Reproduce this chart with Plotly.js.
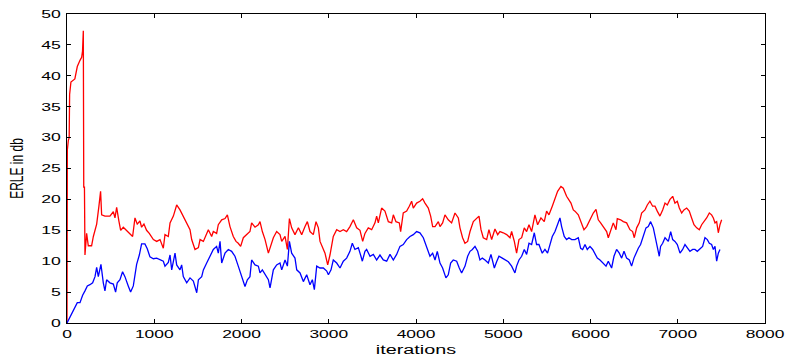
<!DOCTYPE html>
<html>
<head>
<meta charset="utf-8">
<script src="https://cdn.plot.ly/plotly-3.0.1.min.js"></script>
<style>html,body{margin:0;padding:0;background:#fff;}#chart{width:785px;height:358px;}</style>
</head>
<body>
<div id="chart"></div>
<script>
var redX = [0,4,15,25,30,45,90,118,149,168,178,187,192,200,206,225,244,282,302,340,366,385,397,435,492,531,550,569,595,615,645,683,721,752,779,805,836,855,882,912,943,
990,1028,1066,1104,1123,1161,1181,1219,1257,1295,1333,1372,1410,1429,1467,1506,1525,1563,1601,1620,1658,1677,1715,1734,1773,1811,1838,1868,1906,1937,1963,1990,2021,2059,2097,2116,2155,
2193,2212,2239,2270,2308,2327,2365,2403,2441,2461,2499,2526,2549,2575,2613,2652,2690,2728,2755,2785,2823,2854,2881,2900,2938,2957,2988,3014,3052,3091,3129,3167,3205,3243,3282,3320,3358,
3389,3415,3453,3492,3530,3549,3568,3606,3644,3683,3721,3740,3770,3809,3824,3854,3893,3923,3950,3969,4007,4045,4076,4103,4141,4168,4191,4218,4256,4275,4305,4332,4370,4408,4447,4485,4504,4534,4561,
4592,4619,4657,4695,4722,4745,4771,4810,4836,4867,4905,4936,4962,5000,5039,5077,5096,5127,5153,5180,5211,5241,5268,5295,5325,5363,5394,5432,5470,5497,5524,5562,5593,5623,5661,5688,5726,5776,5803,
5822,5860,5898,5925,5956,5994,6032,6063,6089,6116,6147,6185,6204,6242,6261,6292,6307,6345,6376,6414,6452,6483,6502,6529,6559,6586,6624,6651,6681,6712,6739,6765,6796,
6827,6854,6880,6911,6942,6968,6995,7018,7045,7071,7102,7132,7159,7186,7217,7247,7274,7301,7331,7362,7388,7408,7427,7446,7465,7484,7503];
var redY = [0,28,29.5,30,37,39,39.5,41.5,42.5,43,44,47.3,22,22,11,14.5,12.5,12.5,14,16,18.9,21.3,17.5,17.3,17.3,18,17,18.7,16.5,15,15.5,15,14.5,14,17,16,16.5,15.5,16,15,14.5,
13.5,13.2,13.5,12.1,14.3,14.0,16.2,17.3,19.1,18.3,17.3,16.2,15.1,13.5,11.9,12.2,13.5,13.2,14.3,15.1,14.0,14.8,14.5,15.9,16.7,16.9,17.5,15.6,14.0,13.2,12.9,12.4,13.8,14.3,14.8,16.2,15.5,
15.9,16.4,14.8,13.5,11.3,12.1,13.8,14.8,14.3,13.2,14.0,11.9,16.9,15.4,14.3,15.4,14.3,15.6,16.4,14.8,14.3,16.4,15.4,13.2,12.1,11.3,9.4,11.0,14.0,15.1,14.8,15.1,14.8,15.6,16.7,15.4,15.0,
13.2,14.5,15.4,15.1,16.2,17.3,16.2,18.6,18.1,16.4,16.2,17.5,16.4,16.2,14.8,17.8,18.1,18.9,19.7,18.6,19.4,19.7,20.1,19.4,18.6,17.3,15.6,15.6,16.4,15.6,16.2,17.5,16.7,16.2,17.8,17.0,15.4,13.8,12.9,
13.2,14.8,16.4,17.0,17.3,15.1,13.8,13.5,15.1,13.5,15.2,14.3,14.8,14.6,14.3,13.8,14.8,13.2,11.3,13.5,13.8,15.4,14.8,15.9,14.8,17.5,15.9,17.0,16.4,18.1,17.5,18.9,20.2,21.3,22.1,21.8,20.5,19.4,18.3,
18.1,17.5,16.2,15.1,15.6,16.7,17.8,18.4,16.7,16.2,15.6,14.8,13.8,15.4,16.2,15.1,16.9,16.7,16.4,16.2,15.1,14.8,13.8,15.4,16.2,17.8,18.3,19.1,19.7,18.9,18.9,18.1,17.3,
18.3,19.4,19.1,20.0,20.5,19.4,19.7,18.6,17.8,18.3,18.6,18.1,17.0,15.9,15.4,15.1,15.9,16.4,17.0,17.8,17.5,17.0,16.2,16.4,14.6,15.9,16.7];

var blueX = [0,34,65,92,118,149,179,206,233,263,294,321,340,359,378,389,416,435,454,492,531,557,576,607,637,664,702,729,760,779,798,829,855,893,920,
951,990,1028,1066,1104,1123,1161,1181,1200,1238,1257,1295,1314,1333,1372,1410,1448,1487,1506,1544,1563,1601,1639,1677,1715,1734,1754,1773,1811,1849,1887,1925,1963,2002,2040,2067,2097,2116,
2155,2193,2212,2239,2270,2308,2327,2346,2365,2403,2441,2461,2499,2526,2549,2575,2613,2633,2671,2709,2747,2785,2812,2835,2862,2900,2938,2977,2996,3026,3052,3091,3129,3167,3205,3243,3270,3300,3339,3369,3385,
3415,3434,3473,3511,3549,3587,3625,3664,3702,3740,3778,3816,3854,3893,3931,3969,4007,4045,4084,4122,4160,4191,4218,4244,4275,4305,4343,4370,4397,4427,4466,4496,4523,
4562,4592,4619,4646,4676,4707,4733,4760,4791,4829,4859,4898,4924,4951,4989,5020,5058,5096,5134,5153,5180,5211,5241,5268,5295,5325,5356,5382,5409,5447,5478,5508,5535,5562,5593,5623,5650,5669,5699,5726,5753,5784,
5822,5860,5887,5910,5937,5963,5994,6025,6051,6078,6109,6147,6178,6204,6242,6269,6299,6330,6357,6384,6414,6445,6471,6498,6521,6548,6574,6605,6636,6662,6689,6720,6739,6765,6788,6803,
6827,6854,6892,6919,6942,6968,6995,7026,7056,7083,7110,7140,7171,7197,7224,7255,7285,7312,7339,7362,7388,7408,7427,7446,7465,7484,7503];
var blueY = [0,1,1.8,2.5,3.3,3.3,4.5,5.2,6,6.2,6.5,7.5,9,7.5,8.5,9.5,6.5,5.2,7,6.5,6.3,5,6.5,7,8.3,7.5,6,5,6,8,9.5,11,12.8,12.8,12,
10.7,10.4,10.5,10.2,10.0,9.2,9.8,11.0,8.6,11.3,9.4,8.6,9.4,7.5,6.5,7.3,6.8,4.9,7.0,7.5,8.6,9.7,10.8,11.9,12.4,11.3,13.2,9.7,11.3,11.9,11.6,10.8,9.2,7.5,5.9,7.0,7.5,10.2,
9.4,9.2,8.1,8.6,7.8,7.0,5.7,7.3,8.6,9.4,9.7,8.6,10.2,9.2,13.2,11.3,10.5,8.6,8.1,6.7,7.8,6.2,7.0,5.4,9.2,8.9,8.9,8.4,7.8,8.6,10.2,9.7,8.9,10.0,10.5,11.6,12.9,11.9,12.2,10.8,
10.0,11.6,11.9,10.8,11.1,10.2,11.0,10.2,10.0,11.1,10.2,11.1,12.4,12.7,13.5,14.0,14.3,14.8,14.6,13.8,12.4,10.8,11.3,10.2,11.6,9.7,8.9,7.3,7.8,9.7,10.2,10.0,8.9,
8.1,9.2,10.8,11.6,11.9,12.4,11.6,10.2,10.5,10.2,9.7,11.1,8.9,9.9,10.8,10.5,10.2,9.9,9.2,8.1,9.2,10.2,10.8,11.9,11.1,12.9,12.7,14.6,12.7,12.7,11.3,11.9,11.3,12.9,14.0,14.8,15.9,17.0,15.6,14.0,13.5,13.8,
13.5,13.5,13.8,12.1,11.9,12.7,11.9,12.4,11.9,11.1,10.5,10.2,9.7,9.2,10.0,8.9,10.8,11.9,11.3,10.5,11.6,10.5,10.2,9.2,10.5,11.3,12.1,12.7,14.0,15.4,15.6,16.4,15.4,14.0,11.9,10.8,
12.4,12.9,13.8,13.2,14.8,13.5,13.2,12.7,11.3,11.9,12.7,12.1,11.6,11.9,11.9,11.6,12.1,12.4,13.8,13.5,12.9,12.7,11.9,12.4,10.0,11.3,11.9];

var xTickVals = [0,1000,2000,3000,4000,5000,6000,7000,8000];
var yTickVals = [0,5,10,15,20,25,30,35,40,45,50];
var xTitle = "iterations";
var yTitle = "ERLE in db";

var font = {family: "Liberation Sans, Arial, sans-serif", size: 11, color: "#000"};

var traces = [
  {x: redX, y: redY, type: "scatter", mode: "lines", line: {color: "#ff0000", width: 1.3}, hoverinfo: "skip"},
  {x: blueX, y: blueY, type: "scatter", mode: "lines", line: {color: "#0000ff", width: 1.3}, hoverinfo: "skip"}
];

var axisCommon = {
  showline: true, linecolor: "#000", linewidth: 1, mirror: "ticks",
  ticks: "inside", ticklen: 4, tickwidth: 1, tickcolor: "#000",
  showgrid: false, zeroline: false, tickfont: font
};

var layout = {
  width: 785, height: 358,
  margin: {l: 67, r: 20, t: 14, b: 35},
  paper_bgcolor: "#fff", plot_bgcolor: "#fff",
  showlegend: false,
  font: font,
  xaxis: Object.assign({}, axisCommon, {range: [0, 8000], tickvals: xTickVals, ticklabelstandoff: 1,
    title: {text: xTitle, font: {family: font.family, size: 12, color: "#000"}, standoff: 6}}),
  yaxis: Object.assign({}, axisCommon, {range: [0, 50], tickvals: yTickVals, ticklabelstandoff: 3,
    title: {text: yTitle, font: {family: font.family, size: 12, color: "#000"}, standoff: 22}})
};

// widen glyphs horizontally (the reference text is stretched sideways)
function stretchLocal(t, s) {
  var x = parseFloat(t.getAttribute("x")) || 0;
  var y = parseFloat(t.getAttribute("y")) || 0;
  var tr = t.getAttribute("transform") || "";
  t.setAttribute("transform", tr + " translate(" + x + "," + y + ") scale(" + s + ",1) translate(" + (-x) + "," + (-y) + ")");
}
function stretchScreen(t, s) {
  var x = parseFloat(t.getAttribute("x")) || 0;
  var y = parseFloat(t.getAttribute("y")) || 0;
  var tr = t.getAttribute("transform") || "";
  t.setAttribute("transform", "translate(" + x + "," + y + ") scale(" + s + ",1) translate(" + (-x) + "," + (-y) + ") " + tr);
}

Plotly.newPlot("chart", traces, layout, {staticPlot: true, displayModeBar: false}).then(function () {
  document.querySelectorAll(".xtick text").forEach(function (t) { stretchLocal(t, 1.58); });
  document.querySelectorAll(".ytick text").forEach(function (t) { stretchLocal(t, 1.6); });
  document.querySelectorAll(".g-xtitle text").forEach(function (t) { stretchLocal(t, 1.65); });
  document.querySelectorAll(".g-ytitle text").forEach(function (t) { stretchScreen(t, 1.5); });
});
</script>
</body>
</html>
